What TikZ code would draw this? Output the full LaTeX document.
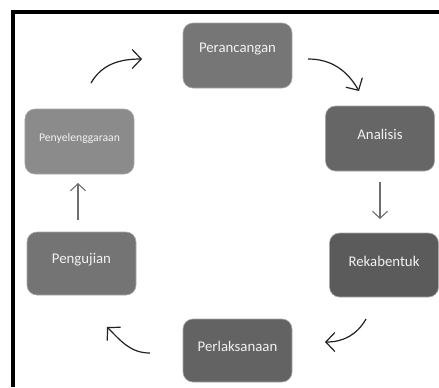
\documentclass[tikz,border=0pt]{standalone}
\usepackage{fontspec}
\setmainfont{Carlito}
\usetikzlibrary{arrows.meta}
\definecolor{cA}{HTML}{767676}
\definecolor{cB}{HTML}{666666}
\definecolor{cC}{HTML}{5B5B5B}
\definecolor{cD}{HTML}{636363}
\definecolor{cE}{HTML}{747474}
\definecolor{cF}{HTML}{8B8B8B}
\definecolor{rim}{HTML}{A8A8A8}
\definecolor{txt}{HTML}{F2F2F2}
\definecolor{ink}{HTML}{222222}
\definecolor{vink}{HTML}{6E6E6E}
\tikzset{
  stagebox/.style={rounded corners=10bp, draw=rim, line width=0.6bp, minimum width=109bp, minimum height=65bp, inner sep=0pt},
  stagetext/.style={text=txt, font=\fontsize{14.8bp}{16bp}\selectfont, inner sep=0pt},
  smalltext/.style={text=txt, font=\fontsize{11.7bp}{13bp}\selectfont, inner sep=0pt},
  curvearrow/.style={draw=ink, line width=1.2bp, -{Straight Barb[length=9bp,width=19bp,line width=1.2bp]}},
  vertarrow/.style={draw=vink, line width=1.1bp, -{Straight Barb[length=7bp,width=15bp,line width=1.1bp]}}
}
\begin{document}
\begin{tikzpicture}[x=1bp,y=-1bp]
\useasboundingbox (0,0) rectangle (439,387);
% frame
\draw[line width=4bp, line join=miter] (13,387) -- (13,12) -- (439,12);
% boxes
\node[stagebox, fill=cA] (per) at (237.5,55.5) {};
\node[stagebox, fill=cB] (ana) at (380,138.5) {};
\node[stagebox, fill=cC, minimum height=64bp] (rek) at (384,265) {};
\node[stagebox, fill=cD, minimum height=63bp] (pel) at (237.5,350.5) {};
\node[stagebox, fill=cE, minimum height=63bp] (pen) at (81.5,263.5) {};
\node[stagebox, fill=cF] (pny) at (79.5,141.5) {};
% texts
\node[stagetext] (perT) at ([yshift=6bp]per.center) {Perancangan};
\node[stagetext] (anaT) at ([yshift=4bp]ana.center) {Analisis};
\node[stagetext] (rekT) at ([yshift=4bp]rek.center) {Rekabentuk};
\node[stagetext] (pelT) at ([yshift=4bp]pel.center) {Perlaksanaan};
\node[stagetext] (penT) at ([yshift=4bp]pen.center) {Pengujian};
\node[smalltext] (pnyT) at ([yshift=3bp]pny.center) {Penyelenggaraan};
% arrow end points
\coordinate (a1s) at (91,83);   \coordinate (a1e) at (142,59);
\coordinate (a2s) at (308,59);  \coordinate (a2e) at (359,91);
\coordinate (a3s) at (380,182); \coordinate (a3e) at (380,219);
\coordinate (a4s) at (366,319); \coordinate (a4e) at (325,342);
\coordinate (a5s) at (150,353); \coordinate (a5e) at (107,327);
\coordinate (a6s) at (78,220);  \coordinate (a6e) at (78,183);
% arrows
\draw[curvearrow] (a1s) to[out=60,in=180] (a1e);
\draw[curvearrow] (a2s) to[out=0,in=120] (a2e);
\draw[vertarrow] (a3s) -- (a3e);
\draw[curvearrow] (a4s) to[out=240,in=0] (a4e);
\draw[curvearrow] (a5s) to[out=180,in=-45] (a5e);
\draw[vertarrow] (a6s) -- (a6e);
\end{tikzpicture}
\end{document}
